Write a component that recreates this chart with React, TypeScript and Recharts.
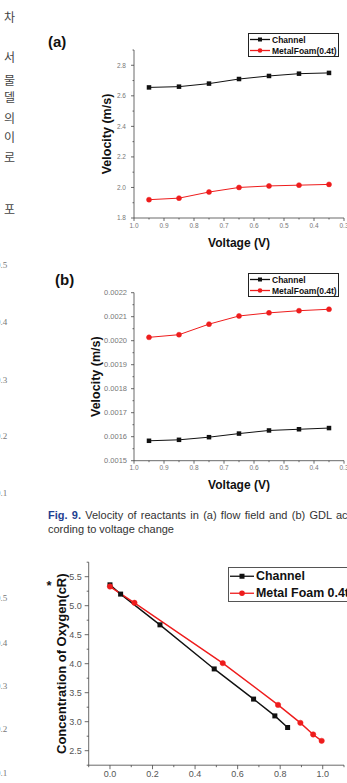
import React from 'react';
import { LineChart, Line, XAxis, YAxis, Legend, Label } from 'recharts';

const FONT = '"Liberation Sans", Arial, sans-serif';
const RED = '#ee1c1c';
const BLACK = '#111';
const AXIS = '#444';

// cell voltage (V), same points for (a) and (b)
const voltage = [0.95, 0.85, 0.75, 0.65, 0.55, 0.45, 0.35];

// (a) velocity in flow field (m/s)
const flowChannel = [2.655, 2.66, 2.68, 2.71, 2.73, 2.745, 2.75];
const flowFoam = [1.92, 1.93, 1.97, 2.0, 2.01, 2.015, 2.02];

// (b) velocity in GDL (m/s)
const gdlChannel = [0.001583, 0.001587, 0.001598, 0.001613, 0.001626, 0.001631, 0.001636];
const gdlFoam = [0.002014, 0.002025, 0.002069, 0.002103, 0.002116, 0.002125, 0.002131];

// oxygen concentration along the cell
const channelPos = [0, 0.05, 0.235, 0.49, 0.675, 0.775, 0.835];
const channelO2 = [5.36, 5.2, 4.67, 3.91, 3.39, 3.1, 2.9];
const foamPos = [0, 0.115, 0.53, 0.79, 0.895, 0.955, 0.995];
const foamO2 = [5.33, 5.05, 4.01, 3.29, 2.98, 2.78, 2.67];

// tick positions (major + minor)
const voltTicks = [0.3, 0.35, 0.4, 0.45, 0.5, 0.55, 0.6, 0.65, 0.7, 0.75, 0.8, 0.85, 0.9, 0.95, 1.0];
const flowTicks = [1.8, 1.9, 2.0, 2.1, 2.2, 2.3, 2.4, 2.5, 2.6, 2.7, 2.8, 2.9];
const gdlTicks = [
  0.0015, 0.00155, 0.0016, 0.00165, 0.0017, 0.00175, 0.0018, 0.00185,
  0.0019, 0.00195, 0.002, 0.00205, 0.0021, 0.00215, 0.0022,
];
const posTicks = [-0.1, 0, 0.1, 0.2, 0.3, 0.4, 0.5, 0.6, 0.7, 0.8, 0.9, 1.0, 1.1];
const o2Ticks = [2.25, 2.5, 2.75, 3.0, 3.25, 3.5, 3.75, 4.0, 4.25, 4.5, 4.75, 5.0, 5.25, 5.5, 5.75];

// neighbouring column fragments
const sideWords = [
  { t: '차', y: 17 }, { t: '서', y: 57 }, { t: '물', y: 80 }, { t: '델', y: 97 },
  { t: '의', y: 118 }, { t: '이', y: 137 }, { t: '로', y: 157 }, { t: '포', y: 209 },
];
const sideNums = [
  { t: '0.5', y: 265 }, { t: '0.4', y: 322 }, { t: '0.3', y: 380 }, { t: '0.2', y: 436 }, { t: '0.1', y: 493 },
  { t: '0.5', y: 598 }, { t: '0.4', y: 643 }, { t: '0.3', y: 686 }, { t: '0.2', y: 729 }, { t: '0.1', y: 773 },
];

const flowRows = voltage.map((v, i) => ({ v, channel: flowChannel[i], foam: flowFoam[i] }));
const gdlRows = voltage.map((v, i) => ({ v, channel: gdlChannel[i], foam: gdlFoam[i] }));
const o2ChannelRows = channelPos.map((x, i) => ({ x, c: channelO2[i] }));
const o2FoamRows = foamPos.map((x, i) => ({ x, c: foamO2[i] }));

interface TickOpts {
  side: 'left' | 'bottom';
  major: (v: number) => boolean;
  fmt: (v: number) => string;
  size: number;
  color: string;
  gap: number;
  len: number;
}

// draws major/minor tick marks, labels only on majors
const axisTick = (o: TickOpts) => (props: any) => {
  const { x, y, payload } = props;
  const v = payload.value as number;
  const big = o.major(v);
  const l = big ? o.len : o.len / 2;
  if (o.side === 'left') {
    return (
      <g>
        <line x1={x - l} y1={y} x2={x} y2={y} stroke={AXIS} strokeWidth={0.8} />
        {big && (
          <text x={x - l - o.gap} y={y} dy="0.35em" textAnchor="end" fontSize={o.size} fill={o.color} fontFamily={FONT}>
            {o.fmt(v)}
          </text>
        )}
      </g>
    );
  }
  return (
    <g>
      <line x1={x} y1={y} x2={x} y2={y + l} stroke={AXIS} strokeWidth={0.8} />
      {big && (
        <text x={x} y={y + l + o.gap} dy="0.71em" textAnchor="middle" fontSize={o.size} fill={o.color} fontFamily={FONT}>
          {o.fmt(v)}
        </text>
      )}
    </g>
  );
};

const squareDot = (s: number, color: string) => (props: any) => (
  <rect key={`sq-${props.index}`} x={props.cx - s / 2} y={props.cy - s / 2} width={s} height={s} fill={color} />
);

interface LegendOpts {
  fontSize: number;
  sample: number;
  rowH: number;
  marker: number;
  border: string;
}

const legendBox = (o: LegendOpts) => (props: any) => {
  const items = props.payload ?? [];
  return (
    <div
      style={{
        border: `1px solid ${o.border}`,
        background: '#fff',
        boxSizing: 'border-box',
        padding: '0 0 0 1px',
        fontFamily: FONT,
        fontWeight: 'bold',
        fontSize: o.fontSize,
        color: '#111',
        whiteSpace: 'nowrap',
      }}
    >
      {items.map((it: any) => (
        <div key={it.value} style={{ display: 'flex', alignItems: 'center', height: o.rowH }}>
          <svg width={o.sample} height={o.rowH} style={{ flex: 'none' }}>
            <line x1={0} x2={o.sample} y1={o.rowH / 2} y2={o.rowH / 2} stroke={it.color} strokeWidth={1.3} />
            {it.value === 'Channel' ? (
              <rect x={o.sample / 2 - o.marker / 2} y={o.rowH / 2 - o.marker / 2} width={o.marker} height={o.marker} fill={it.color} />
            ) : (
              <circle cx={o.sample / 2} cy={o.rowH / 2} r={o.marker / 2 + 0.3} fill={it.color} />
            )}
          </svg>
          <span style={{ marginLeft: 2 }}>{it.value}</span>
        </div>
      ))}
    </div>
  );
};

const smallLegend = legendBox({ fontSize: 8.5, sample: 20, rowH: 11, marker: 4, border: '#222' });
const bigLegend = legendBox({ fontSize: 12.4, sample: 24, rowH: 16.5, marker: 5, border: '#555' });

const titleStyle = { fontFamily: FONT, fontWeight: 'bold' as const, fill: '#111', textAnchor: 'middle' as const };

const voltAxisTick = axisTick({
  side: 'bottom', major: (v) => Math.round(v * 100) % 10 === 0, fmt: (v) => v.toFixed(1),
  size: 6.5, color: '#777', gap: 2, len: 3,
});

const App: React.FC = () => {
  return (
    <div style={{ position: 'absolute', left: 0, top: 0, width: 347, height: 783, overflow: 'hidden', background: '#fff' }}>
      {sideWords.map((w, i) => (
        <span
          key={`w${i}`}
          style={{ position: 'absolute', left: 4, top: w.y - 7, fontFamily: '"Noto Sans CJK KR"', fontSize: 12, lineHeight: '14px', color: '#444' }}
        >
          {w.t}
        </span>
      ))}
      {sideNums.map((n, i) => (
        <span
          key={`n${i}`}
          style={{ position: 'absolute', left: -4, top: n.y - 6, fontFamily: '"Liberation Serif", serif', fontSize: 9, lineHeight: '12px', color: '#777' }}
        >
          {n.t}
        </span>
      ))}

      <div style={{ position: 'absolute', left: 48, top: 33, fontFamily: FONT, fontWeight: 'bold', fontSize: 15, lineHeight: '18px', color: '#111' }}>(a)</div>
      <div style={{ position: 'absolute', left: 55, top: 271, fontFamily: FONT, fontWeight: 'bold', fontSize: 15, lineHeight: '18px', color: '#111' }}>(b)</div>

      {/* (a) flow field */}
      <div style={{ position: 'absolute', left: 0, top: 0 }}>
        <LineChart width={347} height={250} data={flowRows} margin={{ top: 50, right: 3, bottom: 31, left: 133 }}>
          <XAxis
            type="number" dataKey="v" domain={[0.3, 1.0]} reversed allowDataOverflow
            ticks={voltTicks} interval={0} height={1} tickSize={0} tickMargin={0} tickLine={false}
            axisLine={{ stroke: AXIS, strokeWidth: 0.8 }} tick={voltAxisTick}
          >
            <Label value="Voltage (V)" position="bottom" offset={19} style={{ ...titleStyle, fontSize: 12 }} />
          </XAxis>
          <YAxis
            type="number" domain={[1.8, 2.9]} allowDataOverflow ticks={flowTicks} interval={0}
            width={1} tickSize={0} tickMargin={0} tickLine={false} axisLine={{ stroke: AXIS, strokeWidth: 0.8 }}
            tick={axisTick({ side: 'left', major: (v) => Math.round(v * 10) % 2 === 0, fmt: (v) => v.toFixed(1), size: 6.5, color: '#777', gap: 5, len: 3 })}
          >
            <Label value="Velocity (m/s)" angle={-90} position="left" offset={26} style={{ ...titleStyle, fontSize: 12.5 }} />
          </YAxis>
          <Legend
            layout="vertical" align="center" verticalAlign="middle"
            wrapperStyle={{ left: 248, top: 33, width: 91, height: 24 }}
            content={smallLegend}
          />
          <Line type="linear" dataKey="channel" name="Channel" stroke={BLACK} strokeWidth={1} dot={squareDot(4.5, BLACK)} activeDot={false} isAnimationActive={false} />
          <Line type="linear" dataKey="foam" name="MetalFoam(0.4t)" stroke={RED} strokeWidth={1} dot={{ r: 2.5, fill: RED, stroke: RED, strokeWidth: 0.5 }} activeDot={false} isAnimationActive={false} />
        </LineChart>
      </div>

      {/* (b) GDL */}
      <div style={{ position: 'absolute', left: 0, top: 250 }}>
        <LineChart width={347} height={250} data={gdlRows} margin={{ top: 42.7, right: 3, bottom: 38.3, left: 133 }}>
          <XAxis
            type="number" dataKey="v" domain={[0.3, 1.0]} reversed allowDataOverflow
            ticks={voltTicks} interval={0} height={1} tickSize={0} tickMargin={0} tickLine={false}
            axisLine={{ stroke: AXIS, strokeWidth: 0.8 }} tick={voltAxisTick}
          >
            <Label value="Voltage (V)" position="bottom" offset={19} style={{ ...titleStyle, fontSize: 12 }} />
          </XAxis>
          <YAxis
            type="number" domain={[0.0015, 0.0022]} allowDataOverflow ticks={gdlTicks} interval={0}
            width={1} tickSize={0} tickMargin={0} tickLine={false} axisLine={{ stroke: AXIS, strokeWidth: 0.8 }}
            tick={axisTick({ side: 'left', major: (v) => Math.round(v * 20000) % 2 === 0, fmt: (v) => v.toFixed(4), size: 7.5, color: '#777', gap: 4, len: 3 })}
          >
            <Label value="Velocity (m/s)" angle={-90} position="left" offset={37} style={{ ...titleStyle, fontSize: 12.5 }} />
          </YAxis>
          <Legend
            layout="vertical" align="center" verticalAlign="middle"
            wrapperStyle={{ left: 248, top: 23, width: 91, height: 24 }}
            content={smallLegend}
          />
          <Line type="linear" dataKey="channel" name="Channel" stroke={BLACK} strokeWidth={1} dot={squareDot(4.5, BLACK)} activeDot={false} isAnimationActive={false} />
          <Line type="linear" dataKey="foam" name="MetalFoam(0.4t)" stroke={RED} strokeWidth={1} dot={{ r: 2.5, fill: RED, stroke: RED, strokeWidth: 0.5 }} activeDot={false} isAnimationActive={false} />
        </LineChart>
      </div>

      <div
        style={{
          position: 'absolute', left: 48, top: 508, width: 360, fontFamily: FONT, fontSize: 11,
          lineHeight: '14px', color: '#333', whiteSpace: 'nowrap', wordSpacing: 1.2,
        }}
      >
        <span style={{ color: '#1f3f91', fontWeight: 'bold' }}>Fig. 9.</span> Velocity of reactants in (a) flow field and (b) GDL ac
        <br />
        <span style={{ wordSpacing: 0 }}>cording to voltage change</span>
      </div>

      {/* oxygen concentration */}
      <div style={{ position: 'absolute', left: 0, top: 550 }}>
        <LineChart width={347} height={233} margin={{ top: 12.2, right: 3, bottom: 16.8, left: 87.7 }}>
          <XAxis
            type="number" dataKey="x" domain={[-0.1, 1.1]} allowDataOverflow ticks={posTicks} interval={0}
            height={1} tickSize={0} tickMargin={0} tickLine={false} axisLine={{ stroke: AXIS, strokeWidth: 0.8 }}
            tick={axisTick({
              side: 'bottom', major: (v) => Math.round(v * 10) % 2 === 0 && v >= 0 && v <= 1,
              fmt: (v) => v.toFixed(1), size: 9, color: '#555', gap: 1.5, len: 4,
            })}
          />
          <YAxis
            type="number" dataKey="c" domain={[2.25, 5.75]} allowDataOverflow ticks={o2Ticks} interval={0}
            width={1} tickSize={0} tickMargin={0} tickLine={false} axisLine={{ stroke: AXIS, strokeWidth: 0.8 }}
            tick={axisTick({ side: 'left', major: (v) => Math.round(v * 4) % 2 === 0, fmt: (v) => v.toFixed(1), size: 9, color: '#555', gap: 3, len: 4 })}
          >
            <Label value="Concentration of Oxygen(cR)" angle={-90} position="left" offset={26.7} style={{ ...titleStyle, fontSize: 13 }} />
          </YAxis>
          <Legend
            layout="vertical" align="center" verticalAlign="middle"
            wrapperStyle={{ left: 228, top: 17, width: 125, height: 34 }}
            content={bigLegend}
          />
          <Line data={o2ChannelRows} type="linear" dataKey="c" name="Channel" stroke={BLACK} strokeWidth={1.4} dot={squareDot(5, BLACK)} activeDot={false} isAnimationActive={false} />
          <Line data={o2FoamRows} type="linear" dataKey="c" name="Metal Foam 0.4t" stroke={RED} strokeWidth={1.4} dot={{ r: 2.7, fill: RED, stroke: RED, strokeWidth: 0.5 }} activeDot={false} isAnimationActive={false} />
        </LineChart>
      </div>
      <span style={{ position: 'absolute', left: 46.5, top: 579, fontFamily: FONT, fontWeight: 'bold', fontSize: 13, lineHeight: '14px', color: '#111' }}>*</span>
    </div>
  );
};

export default App;
